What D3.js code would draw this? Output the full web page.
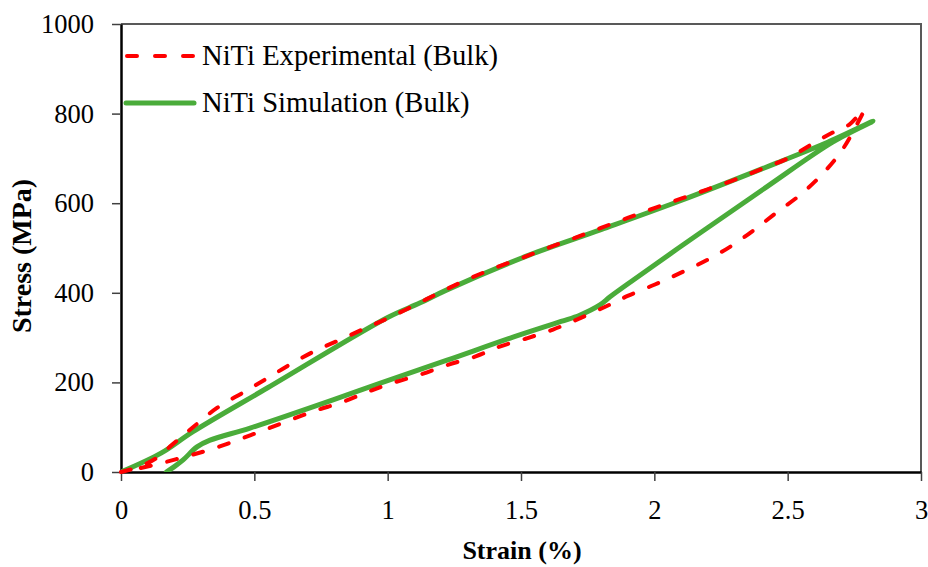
<!DOCTYPE html>
<html>
<head>
<meta charset="utf-8">
<script src="https://cdn.jsdelivr.net/npm/d3@7"></script>
<style>
  body { margin: 0; background: #fff; }
  text { font-family: "Liberation Serif", "Times New Roman", serif; fill: #000; }
</style>
</head>
<body>
<svg id="chart" width="928" height="567"></svg>
<script>
// experimental loop: loading from origin to peak, then unloading back
const expStrain = [0, 0.06, 0.13, 0.19, 0.24, 0.28, 0.36, 0.46, 0.545, 0.64, 0.73, 0.825, 0.92, 1.0,
    1.1, 1.2, 1.3, 1.4, 1.5, 1.6, 1.7, 1.8, 1.9, 2.0, 2.1, 2.2, 2.3, 2.4, 2.5, 2.6, 2.67, 2.73, 2.785,
    2.75, 2.70, 2.63, 2.55, 2.46, 2.38, 2.29, 2.2, 2.1, 2.0, 1.9, 1.82, 1.72, 1.62, 1.52, 1.42, 1.33,
    1.22, 1.12, 1.02, 0.93, 0.83, 0.73, 0.63, 0.53, 0.44, 0.34, 0.24, 0.14, 0.05, 0];
const expStress = [0, 10, 30, 60, 85, 105, 143, 178, 208, 242, 271, 296, 322, 343,
    372, 402, 430, 455, 477, 500, 522, 545, 567, 589, 610, 631, 652, 676, 700, 735, 758, 775, 808,
    765, 715, 665, 620, 580, 543, 505, 474, 445, 418, 393, 370, 343, 318, 298, 280, 258,
    238, 217, 199, 180, 156, 137, 115, 92, 72, 51, 34, 18, 6, 0];

// simulation loop
const simStrain = [0, 0.15, 0.27, 0.55, 1.0, 1.12, 1.22, 1.53, 1.8, 2.1, 2.46, 2.65, 2.82,
    2.67, 2.42, 2.17, 1.92, 1.834, 1.796, 1.72, 1.65, 1.47, 1.22, 0.97, 0.795, 0.484, 0.334,
    0.285, 0.233, 0.2, 0.17];
const simStress = [0, 42, 90, 188, 345, 377, 406, 484, 541, 606, 690, 736, 783,
    737, 636, 533, 428, 391, 373, 350, 336, 301, 249, 198, 161, 98, 71,
    56, 27, 12, 0];

const xTicks = [0, 0.5, 1, 1.5, 2, 2.5, 3];
const yTicks = [0, 200, 400, 600, 800, 1000];
const seriesNames = ["NiTi Experimental (Bulk)", "NiTi Simulation (Bulk)"];

const svg = d3.select("#chart");
const plotLeft = 121, plotRight = 921, plotTop = 24, plotBottom = 472;

const x = d3.scaleLinear().domain([0, 3]).range([plotLeft, plotRight]);
const y = d3.scaleLinear().domain([0, 1000]).range([plotBottom, plotTop]);

// frame (top and right borders)
svg.append("path")
    .attr("d", `M${plotLeft},${plotTop}H${plotRight}V${plotBottom}`)
    .attr("fill", "none")
    .attr("stroke", "#595959")
    .attr("stroke-width", 2);

const xAxis = svg.append("g")
    .attr("transform", `translate(0,${plotBottom})`)
    .call(d3.axisBottom(x).tickValues(xTicks).tickFormat(d3.format("")).tickSize(9).tickSizeOuter(0).tickPadding(19));

const yAxis = svg.append("g")
    .attr("transform", `translate(${plotLeft},0)`)
    .call(d3.axisLeft(y).tickValues(yTicks).tickFormat(d3.format("d")).tickSize(9).tickSizeOuter(0).tickPadding(18));

[xAxis, yAxis].forEach(g => {
    g.select(".domain").attr("stroke", "#000").attr("stroke-width", 2.5);
    g.selectAll(".tick line").attr("stroke", "#404040").attr("stroke-width", 1.5);
    g.selectAll(".tick text")
        .attr("font-family", "Liberation Serif")
        .attr("font-size", 26.5)
        .attr("fill", "#000");
});

const line = d3.line()
    .x(d => x(d[0]))
    .y(d => y(d[1]))
    .curve(d3.curveCatmullRom.alpha(0.5));

svg.append("clipPath").attr("id", "plot-clip")
    .append("rect")
    .attr("x", plotLeft).attr("y", plotTop)
    .attr("width", plotRight - plotLeft).attr("height", plotBottom - plotTop);

svg.append("path")
    .datum(simStrain.map((s, i) => [s, simStress[i]]))
    .attr("d", line)
    .attr("fill", "none")
    .attr("stroke", "#4aac3a")
    .attr("stroke-width", 5)
    .attr("stroke-linecap", "round")
    .attr("stroke-linejoin", "round")
    .attr("clip-path", "url(#plot-clip)");

svg.append("path")
    .datum(expStrain.map((s, i) => [s, expStress[i]]))
    .attr("d", line)
    .attr("fill", "none")
    .attr("stroke", "#ff0000")
    .attr("stroke-width", 4)
    .attr("stroke-dasharray", "10,17")
    .attr("stroke-linecap", "round");

// legend
const legend = svg.append("g");
legend.append("line")
    .attr("x1", 127).attr("x2", 194).attr("y1", 56).attr("y2", 56)
    .attr("stroke", "#ff0000").attr("stroke-width", 4)
    .attr("stroke-dasharray", "10,18").attr("stroke-linecap", "round");
legend.append("line")
    .attr("x1", 126).attr("x2", 194).attr("y1", 103).attr("y2", 103)
    .attr("stroke", "#4aac3a").attr("stroke-width", 5).attr("stroke-linecap", "round");
legend.selectAll("text.lg")
    .data(seriesNames)
    .join("text")
    .attr("class", "lg")
    .attr("x", 202)
    .attr("y", (d, i) => i ? 112 : 65)
    .attr("font-size", 28.6)
    .text(d => d);

// axis titles
svg.append("text")
    .attr("x", (plotLeft + plotRight) / 2 + 1)
    .attr("y", 559)
    .attr("text-anchor", "middle")
    .attr("font-size", 26)
    .attr("font-weight", "bold")
    .text("Strain (%)");

svg.append("text")
    .attr("transform", "translate(31,256) rotate(-90)")
    .attr("text-anchor", "middle")
    .attr("font-size", 28)
    .attr("font-weight", "bold")
    .text("Stress (MPa)");
</script>
</body>
</html>
